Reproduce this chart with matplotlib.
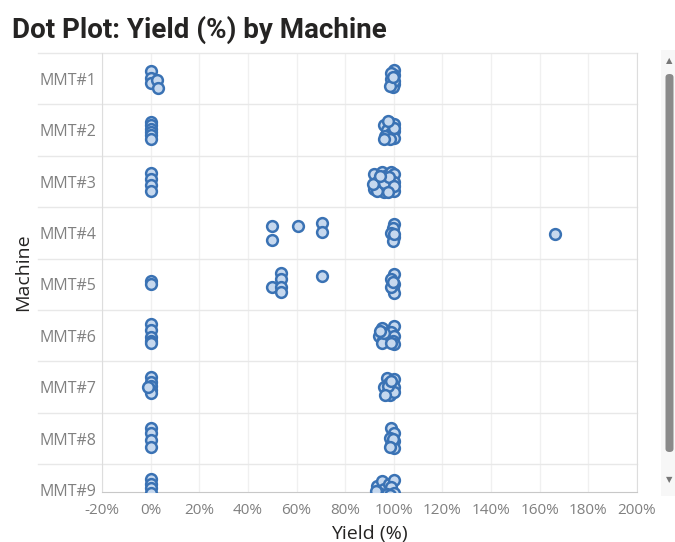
import matplotlib.pyplot as plt
from matplotlib.patches import FancyBboxPatch, Rectangle
from matplotlib.ticker import FuncFormatter

machines = ["MMT#1", "MMT#2", "MMT#3", "MMT#4", "MMT#5", "MMT#6", "MMT#7", "MMT#8", "MMT#9"]

# yield values (fraction) per machine, with the vertical jitter
yield_1 = [0, 0, 0, 0.028, 0.03, 1.0, 1.0, 0.99, 1.0, 0.995, 0.99, 1.0, 0.985, 0.995]
jitter_1 = [-0.15, -0.02, 0.09, 0.03, 0.18, -0.17, -0.08, 0.0, 0.1, 0.17, -0.12, 0.05, 0.14, -0.04]

yield_2 = [0, 0, 0, 0, 0, 0, 0.98, 0.96, 1.0, 0.97, 0.99, 1.0, 0.965, 1.0, 0.985, 1.0, 0.975, 0.96]
jitter_2 = [-0.15, -0.09, -0.03, 0.03, 0.1, 0.17, -0.15, -0.1, -0.12, 0.0, 0.05, 0.02, 0.12, 0.16,
            0.18, -0.05, -0.18, 0.17]

yield_3 = [0, 0, 0, 0, 0.92, 0.93, 0.92, 0.95, 0.95, 0.94, 0.96, 0.97, 0.97, 0.98,
           0.99, 0.99, 0.99, 1.0, 1.0, 1.0, 0.93, 0.96, 0.98, 1.0, 0.915, 0.945, 0.975]
jitter_3 = [-0.17, -0.05, 0.06, 0.18, -0.15, 0.0, 0.15, -0.18, -0.05, 0.1, 0.2, -0.12, 0.05, 0.17,
            -0.18, -0.02, 0.12, -0.15, 0.0, 0.19, 0.18, 0.03, -0.08, 0.08, 0.05, -0.1, 0.2]

yield_4 = [0.5, 0.5, 0.605, 0.705, 0.705, 1.664, 1.0, 0.995, 0.99, 1.0, 0.995, 1.0]
jitter_4 = [-0.13, 0.14, -0.13, -0.2, -0.02, 0.02, -0.18, -0.1, 0.0, 0.07, 0.15, 0.03]

yield_5 = [0, 0, 0.5, 0.537, 0.537, 0.537, 0.537, 0.705, 1.0, 0.99, 1.0, 0.995, 1.0, 0.99, 0.995]
jitter_5 = [-0.07, 0.0, 0.05, -0.22, -0.1, 0.05, 0.15, -0.16, -0.2, -0.1, 0.0, 0.1, 0.17, 0.05, -0.05]

yield_6 = [0, 0, 0, 0, 0, 0.95, 0.94, 0.955, 0.95, 1.0, 0.99, 1.0, 0.995, 1.0, 0.96, 0.945, 0.99]
jitter_6 = [-0.22, -0.11, 0.02, 0.1, 0.14, -0.15, 0.0, 0.08, 0.15, -0.18, -0.08, 0.0, 0.1, 0.17,
            -0.05, -0.1, 0.14]

yield_7 = [0, 0, 0, 0, 0, -0.01, 0.97, 0.98, 0.96, 0.99, 0.97, 1.0, 1.0, 0.985, 1.0, 0.975, 0.965,
           0.99]
jitter_7 = [-0.2, -0.1, -0.02, 0.05, 0.12, 0.0, -0.18, -0.08, 0.0, 0.05, 0.12, -0.15, 0.0, 0.16,
            0.1, -0.03, 0.15, -0.12]

yield_8 = [0, 0, 0, 0, 0.99, 1.0, 0.985, 1.0, 0.99, 1.0, 0.995, 0.985]
jitter_8 = [-0.2, -0.1, 0.03, 0.16, -0.2, -0.1, -0.02, 0.05, 0.13, 0.18, 0.0, 0.16]

yield_9 = [0, 0, 0, 0, 0.93, 0.95, 0.96, 0.98, 1.0, 0.99, 1.0, 0.94, 0.97, 0.925, 0.985]
jitter_9 = [-0.22, -0.12, -0.03, 0.05, -0.08, -0.18, -0.02, -0.12, -0.2, -0.05, 0.05, 0.05, 0.08,
            0.02, 0.1]

yields = [yield_1, yield_2, yield_3, yield_4, yield_5, yield_6, yield_7, yield_8, yield_9]
jitters = [jitter_1, jitter_2, jitter_3, jitter_4, jitter_5, jitter_6, jitter_7, jitter_8, jitter_9]

x_ticks = [-0.2, 0, 0.2, 0.4, 0.6, 0.8, 1.0, 1.2, 1.4, 1.6, 1.8, 2.0]

plt.rcParams['font.family'] = ['Open Sans', 'DejaVu Sans']

fig = plt.figure(figsize=(6.75, 5.42), dpi=100)
ax = fig.add_axes([102 / 675, 1 - 492 / 542, 535 / 675, 439 / 542])

for i, (vals, jit) in enumerate(zip(yields, jitters)):
    ax.scatter(vals, [i + j for j in jit], s=60, facecolor='#c6d8ee', edgecolor='#3a72b4',
               linewidth=1.8, zorder=3, clip_on=True)

ax.set_xlim(-0.2, 2.0)
ax.set_ylim(8.04, -0.5)
ax.set_xticks(x_ticks)
ax.xaxis.set_major_formatter(FuncFormatter(lambda v, p: f"{v * 100:.0f}%"))
ax.set_yticks(range(len(machines)))
ax.set_yticklabels(machines)
ax.tick_params(length=0, labelcolor='#808080')
ax.tick_params(axis='y', pad=4, labelsize=11.5)
ax.tick_params(axis='x', pad=8, labelsize=11)
ax.grid(axis='x', color='#f0f0f0', lw=1)
ax.set_axisbelow(True)

# band separators, running under the labels too
for i in range(len(machines)):
    ax.axhline(i - 0.5, xmin=-0.12, xmax=1, color='#e8e8e8', lw=1, clip_on=False, zorder=1)

ax.spines['top'].set_visible(False)
for side in ['left', 'right']:
    ax.spines[side].set_color('#dddddd')
ax.spines['bottom'].set_color('#c8c8c8')

ax.set_xlabel('Yield (%)', fontsize=14, color='#252423', labelpad=5)
ax.set_ylabel('Machine', fontsize=14, color='#252423', labelpad=5)

fig.text(12 / 675, 1 - 30 / 542, 'Dot Plot: Yield (%) by Machine', fontsize=20,
         fontweight='bold', color='#252423', va='center', ha='left',
         family=['Roboto', 'DejaVu Sans'])

# scroll bar on the right
fig.patches.append(Rectangle((661 / 675, 1 - 496 / 542), 16 / 675, 446 / 542,
                             transform=fig.transFigure, facecolor='#f7f7f7', edgecolor='none'))
fig.patches.append(FancyBboxPatch((665.5 / 675, 1 - 452 / 542), 8 / 675, 378 / 542,
                                  boxstyle='round,pad=0,rounding_size=0.006',
                                  transform=fig.transFigure, facecolor='#8a8a8a', edgecolor='none'))
fig.text(669.5 / 675, 1 - 62 / 542, '▲', fontsize=6, color='#777777', ha='center', va='center')
fig.text(669.5 / 675, 1 - 481 / 542, '▼', fontsize=6, color='#777777', ha='center', va='center')

fig.savefig('out.png', dpi=100)
